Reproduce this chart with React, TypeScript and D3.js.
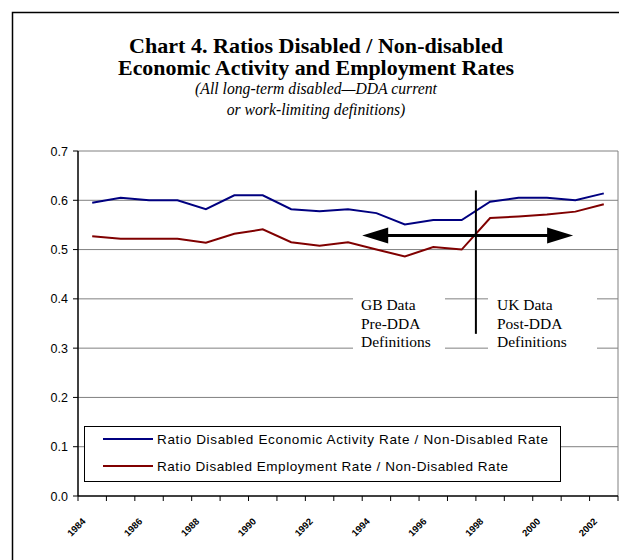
import React from "react";
import * as d3 from "d3";

const years = ["1984","1985","1986","1987","1988","1989","1990","1991","1992","1993","1994","1995","1996","1997","1998","1999","2000","2001","2002"];
const activityRatio = [0.595,0.605,0.600,0.600,0.582,0.610,0.610,0.582,0.578,0.582,0.574,0.551,0.560,0.560,0.597,0.605,0.605,0.600,0.614];
const employmentRatio = [0.527,0.522,0.522,0.522,0.514,0.532,0.541,0.515,0.508,0.515,0.500,0.486,0.505,0.500,0.564,0.567,0.571,0.577,0.592];
const yTicks = [0, 0.1, 0.2, 0.3, 0.4, 0.5, 0.6, 0.7];
const seriesNames = [
  "Ratio Disabled Economic Activity Rate / Non-Disabled Rate",
  "Ratio Disabled Employment Rate / Non-Disabled Rate",
];
const titleLines = ["Chart 4. Ratios Disabled / Non-disabled", "Economic Activity and Employment Rates"];
const subtitleLines = ["(All long-term disabled\u2014DDA current", "or work-limiting definitions)"];
const leftNote = ["GB Data", "Pre-DDA", "Definitions"];
const rightNote = ["UK Data", "Post-DDA", "Definitions"];

const W = 619, H = 560;
const plot = { left: 78, right: 618, top: 151, bottom: 496 };
const BLUE = "#000080";
const RED = "#800000";

export default function App() {
  const n = years.length;
  const step = (plot.right - plot.left) / n;
  const x = d3.scaleLinear().domain([-0.5, n - 0.5]).range([plot.left, plot.right]);
  const y = d3.scaleLinear().domain([0, 0.7]).range([plot.bottom, plot.top]);
  const line = d3.line<number>().x((_, i) => x(i)).y((d) => y(d));
  const sans = "'Liberation Sans', Arial, sans-serif";
  const serif = "'Liberation Serif', 'Times New Roman', serif";

  const divX = x(13.5);
  const arrowY = y(0.5285);
  const arrowL = x(9.5);
  const arrowR = x(16.92);
  const ah = 26, aw = 8;
  const titleWidths = [374, 396];

  return (
    <svg width={W} height={H} style={{ position: "absolute", left: 0, top: 0, background: "#fff" }}>
      <rect x={12.5} y={12.5} width={W + 20} height={H + 20} fill="#fff" stroke="#000" strokeWidth={1.5} />
      {titleLines.map((t, i) => (
        <text key={t} x={316} y={53 + i * 22} textAnchor="middle" fontFamily={serif} fontWeight="bold" fontSize={21} textLength={titleWidths[i]} lengthAdjust="spacingAndGlyphs">{t}</text>
      ))}
      {subtitleLines.map((t, i) => (
        <text key={t} x={316} y={94 + i * 21} textAnchor="middle" fontFamily={serif} fontStyle="italic" fontSize={15.7}>{t}</text>
      ))}

      {/* gridlines */}
      {yTicks.filter((v) => v > 0).map((v) => (
        <line key={v} x1={plot.left} x2={plot.right} y1={y(v)} y2={y(v)} stroke="#808080" strokeWidth={1} />
      ))}
      <line x1={plot.right} x2={plot.right} y1={plot.top} y2={plot.bottom} stroke="#808080" strokeWidth={1} />

      {/* data lines */}
      <path d={line(activityRatio) || ""} fill="none" stroke={BLUE} strokeWidth={2} />
      <path d={line(employmentRatio) || ""} fill="none" stroke={RED} strokeWidth={2} />

      {/* annotation boxes */}
      <rect x={353} y={y(0.42)} width={92} height={y(0.28) - y(0.42)} fill="#fff" />
      <rect x={488} y={y(0.42)} width={109} height={y(0.28) - y(0.42)} fill="#fff" />
      {leftNote.map((t, i) => (
        <text key={"l" + i} x={361} y={310 + i * 18.5} fontFamily={serif} fontSize={15.5}>{t}</text>
      ))}
      {rightNote.map((t, i) => (
        <text key={"r" + i} x={497} y={310 + i * 18.5} fontFamily={serif} fontSize={15.5}>{t}</text>
      ))}

      {/* divider and arrow */}
      <line x1={divX} x2={divX} y1={y(0.62)} y2={y(0.329)} stroke="#000" strokeWidth={2} />
      <line x1={arrowL + ah - 2} x2={arrowR - ah + 2} y1={arrowY} y2={arrowY} stroke="#000" strokeWidth={3} />
      <path d={`M${arrowL},${arrowY} L${arrowL + ah},${arrowY - aw} L${arrowL + ah},${arrowY + aw} Z`} fill="#000" />
      <path d={`M${arrowR},${arrowY} L${arrowR - ah},${arrowY - aw} L${arrowR - ah},${arrowY + aw} Z`} fill="#000" />

      {/* legend */}
      <rect x={84.5} y={426.5} width={476} height={55} fill="#fff" stroke="#000" strokeWidth={1} />
      {seriesNames.map((s, i) => (
        <g key={s}>
          <line x1={103} x2={153} y1={439 + i * 27} y2={439 + i * 27} stroke={i === 0 ? BLUE : RED} strokeWidth={2} />
          <text x={157} y={444 + i * 27} fontFamily={sans} fontSize={13.5} textLength={i === 0 ? 391 : 351} lengthAdjust="spacing">{s}</text>
        </g>
      ))}

      {/* axes */}
      <line x1={plot.left} x2={plot.left} y1={plot.top} y2={plot.bottom} stroke="#000" strokeWidth={1.5} />
      <line x1={plot.left} x2={plot.right} y1={plot.bottom} y2={plot.bottom} stroke="#000" strokeWidth={1.5} />
      {yTicks.map((v) => (
        <g key={"yt" + v}>
          <line x1={plot.left - 5} x2={plot.left} y1={y(v)} y2={y(v)} stroke="#000" strokeWidth={1} />
          <text x={68} y={y(v) + 4.5} textAnchor="end" fontFamily={sans} fontSize={12.5}>{d3.format(".1f")(v)}</text>
        </g>
      ))}
      {d3.range(n + 1).map((i) => (
        <line key={"xt" + i} x1={plot.left + i * step} x2={plot.left + i * step} y1={plot.bottom} y2={plot.bottom + 5} stroke="#000" strokeWidth={1} />
      ))}
      {years.map((yr, i) => i % 2 === 0 ? (
        <text key={yr} transform={`translate(${x(i) - 6},${522}) rotate(-45)`} textAnchor="end" fontFamily={sans} fontSize={9.5} fontWeight="bold">{yr}</text>
      ) : null)}
    </svg>
  );
}
